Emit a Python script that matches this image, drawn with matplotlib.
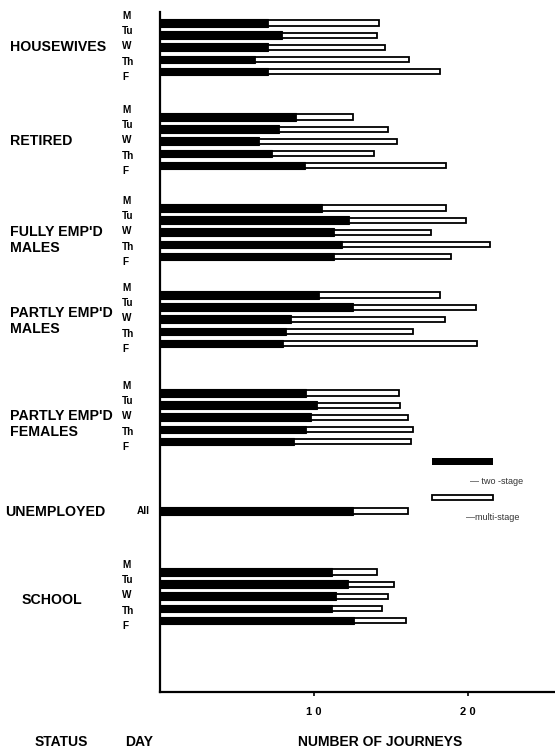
import matplotlib
matplotlib.use("Agg")
import matplotlib.pyplot as plt

plt.rcParams['font.family'] = ['Liberation Sans', 'DejaVu Sans']

# journeys per day, split into two-stage and multi-stage
groups = ["HOUSEWIVES", "RETIRED", "FULLY EMP'D\nMALES", "PARTLY EMP'D\nMALES",
          "PARTLY EMP'D\nFEMALES", "UNEMPLOYED", "SCHOOL"]
days = [["M", "Tu", "W", "Th", "F"]] * 5 + [["All"]] + [["M", "Tu", "W", "Th", "F"]]

two_stage = [
    [7.0, 7.9, 7.0, 6.2, 7.0],
    [8.8, 7.7, 6.4, 7.3, 9.4],
    [10.5, 12.3, 11.3, 11.8, 11.3],
    [10.3, 12.5, 8.5, 8.2, 8.0],
    [9.5, 10.2, 9.8, 9.5, 8.7],
    [12.5],
    [11.2, 12.2, 11.4, 11.2, 12.6],
]
multi_stage = [
    [7.2, 6.2, 7.6, 10.0, 11.2],
    [3.7, 7.1, 9.0, 6.6, 9.2],
    [8.1, 7.6, 6.3, 9.6, 7.6],
    [7.9, 8.0, 10.0, 8.2, 12.6],
    [6.0, 5.4, 6.3, 6.9, 7.6],
    [3.6],
    [2.9, 3.0, 3.4, 3.2, 3.4],
]

# vertical layout (rows measured from the top of the figure)
group_top = [23, 117, 208, 295, 393, 511, 572]
group_label_y = [47, 141, 240, 321, 424, 512, 600]
group_label_x = [10, 10, 10, 10, 10, 5, 22]
bar_pitch = 12.1
label_pitch = 15.2

W, H = 555, 749
fig = plt.figure(figsize=(W / 100, H / 100), dpi=100)
x0, y_bot, y_top = 160, 692, 12
ax = fig.add_axes([x0 / W, (H - y_bot) / H, 1 - x0 / W, (y_bot - y_top) / H])
px_per_unit = 15.4
ax.set_xlim(0, (W - x0) / px_per_unit)
ax.set_ylim(y_bot, y_top)

for g, (two, multi) in enumerate(zip(two_stage, multi_stage)):
    ys = [group_top[g] + i * bar_pitch for i in range(len(two))]
    ax.barh(ys, two, height=7.5, color="black", edgecolor="black", linewidth=0.8)
    ax.barh(ys, multi, left=two, height=5.2, color="white", edgecolor="black",
            linewidth=1.3)
    for i, d in enumerate(days[g]):
        if len(days[g]) == 1:
            ly, lx = ys[0], 137
        else:
            ly, lx = group_top[g] - 7 + i * label_pitch, 122
        fig.text(lx / W, 1 - ly / H, d, fontsize=7.2, fontweight="bold",
                 va="center", ha="left")
    fig.text(group_label_x[g] / W, 1 - group_label_y[g] / H, groups[g],
             fontsize=10.2, fontweight="bold", va="center", ha="left",
             linespacing=1.2)

for s in ["top", "right"]:
    ax.spines[s].set_visible(False)
ax.spines["left"].set_linewidth(1.6)
ax.spines["bottom"].set_linewidth(1.6)
ax.set_yticks([])
ax.set_xticks([10, 20])
ax.set_xticklabels(["1 0", "2 0"], fontsize=8, fontweight="bold")
ax.tick_params(axis="x", length=3, width=1.2, pad=8)

# legend swatches drawn in data coordinates beside the bars
lx0 = (432 - x0) / px_per_unit
lx1 = (493 - x0) / px_per_unit
ax.barh([461], [lx1 - lx0], left=lx0, height=7, color="black", clip_on=False)
ax.barh([497], [lx1 - lx0], left=lx0, height=5, color="white",
        edgecolor="black", linewidth=1.3, clip_on=False)
fig.text(470 / W, 1 - 481 / H, "— two -stage", fontsize=6.5, color="#333333",
         va="center", ha="left")
fig.text(466 / W, 1 - 518 / H, "—multi-stage", fontsize=6.5, color="#333333",
         va="center", ha="left")

fig.text(35 / W, 1 - 742 / H, "STATUS", fontsize=10, fontweight="bold",
         va="center", ha="left")
fig.text(125 / W, 1 - 742 / H, "DAY", fontsize=10, fontweight="bold",
         va="center", ha="left")
fig.text(380 / W, 1 - 742 / H, "NUMBER OF JOURNEYS", fontsize=10,
         fontweight="bold", va="center", ha="center")

fig.savefig("out.png", dpi=100, facecolor="white")
